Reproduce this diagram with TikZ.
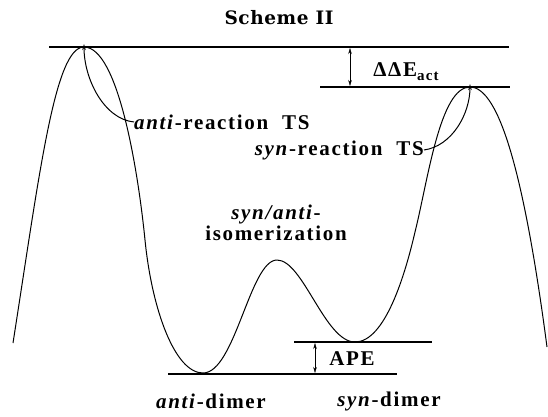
\documentclass[tikz,border=0pt]{standalone}
\usepackage{fontspec}
\setmainfont{Liberation Serif}[LetterSpace=8]
\newfontfamily\schemefont{DejaVu Serif}[LetterSpace=3]
\usetikzlibrary{arrows.meta}

\begin{document}
\begin{tikzpicture}[x=1pt,y=-1pt,>={Stealth[length=6pt,width=3.5pt]},
  lbl/.style={font=\fontsize{21}{21}\selectfont\bfseries,inner sep=0pt,align=center},
  lvl/.style={line width=1.3pt},
  pes/.style={line width=1pt}]
  \useasboundingbox (0,0) rectangle (548,416);
  % stationary points
  \coordinate (antiTS) at (84,47);
  \coordinate (synTS) at (470,87);
  \coordinate (antiMin) at (203,373);
  \coordinate (synMin) at (355,342);
  \coordinate (isoTS) at (277,260);
  % energy levels
  \coordinate (l1a) at (49,47);   \coordinate (l1b) at (509,47);
  \coordinate (l2a) at (320,87);  \coordinate (l2b) at (510,87);
  \coordinate (l3a) at (294,342); \coordinate (l3b) at (432,342);
  \coordinate (l4a) at (168,374); \coordinate (l4b) at (397,374);
  \draw[lvl] (l1a)--(l1b); \draw[lvl] (l2a)--(l2b);
  \draw[lvl] (l3a)--(l3b); \draw[lvl] (l4a)--(l4b);
  % potential energy surface
  \draw[pes] (13,343) .. controls (40,170) and (55,47) .. (antiTS)
    .. controls (118,47) and (138,170) .. (145,240)
    .. controls (152,310) and (175,373) .. (antiMin)
    .. controls (235,373) and (250,260) .. (isoTS)
    .. controls (303,260) and (325,342) .. (synMin)
    .. controls (385,342) and (405,275) .. (415,232)
    .. controls (428,180) and (440,87) .. (synTS)
    .. controls (500,87) and (525,180) .. (547,347);
  % labels
  \node[font=\schemefont\fontsize{18.5}{20}\selectfont\bfseries] (title) at (279,18) {Scheme II};
  \node[lbl,anchor=west] (antilbl) at (134,122) {\textit{anti}-reaction\ \ TS};
  \node[lbl,anchor=east] (synlbl) at (424,150) {\textit{syn}-reaction\ \ TS};
  \node[lbl] (ddE) at (406,72) {ΔΔE\raisebox{-4pt}{\fontsize{15}{15}\selectfont act}};
  \node[lbl] (ape) at (352,359) {APE};
  \node[lbl] (iso) at (276,223) {\textit{syn/anti}-\\isomerization};
  \node[lbl] (antidim) at (211,401) {\textit{anti}-dimer};
  \node[lbl] (syndim) at (389,401) {\textit{syn}-dimer};
  % connectors
  \draw[pes,->] (antilbl.west) .. controls +(-30,-3) and +(0,35) .. ([yshift=3pt]antiTS);
  \draw[pes,->] (synlbl.east) .. controls +(28,-4) and +(0,30) .. ([yshift=3pt]synTS);
  \draw[<->] (350,48) coordinate (dda) -- (350,86) coordinate (ddb);
  \draw[<->] (315,343) coordinate (apa) -- (315,373) coordinate (apb);
\end{tikzpicture}
\end{document}
